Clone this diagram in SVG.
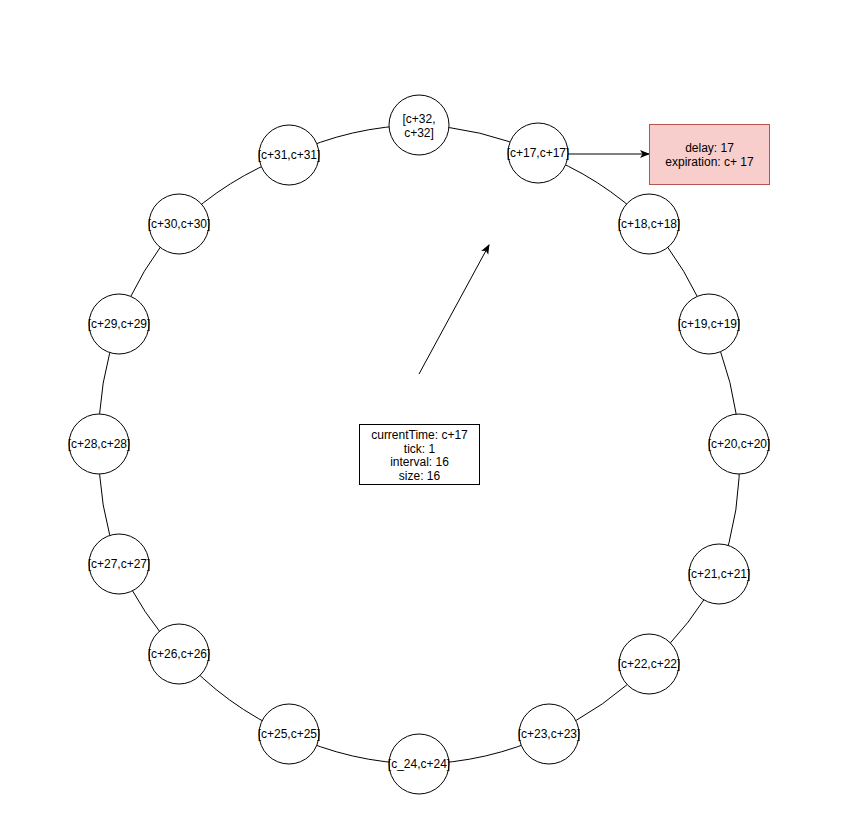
<svg xmlns="http://www.w3.org/2000/svg" width="868" height="816" viewBox="0 0 868 816">
  <style>
    text { font-family: "Liberation Sans", Arial, Helvetica, sans-serif; font-size: 12px; fill: #000; text-anchor: middle; }
    .slot { fill: #fff; stroke: #000; stroke-width: 1; }
    .ring { fill: none; stroke: #000; stroke-width: 1; }
    .arrow { fill: none; stroke: #000; stroke-width: 1; marker-end: url(#head); }
  </style>
  <defs>
    <marker id="head" viewBox="0 0 10 10" refX="9" refY="5" markerWidth="10" markerHeight="10" markerUnits="userSpaceOnUse" orient="auto">
      <path d="M0,1 L10,5 L0,9 L2.5,5 Z" fill="#000"/>
    </marker>
  </defs>
  <rect width="868" height="816" fill="#fff"/>

  <!-- ring of buckets: arcs between neighbouring slots -->
  <g id="connectors">
    <path class="ring" d="M419,125 A320,320 0 0 1 538,153"/>
    <path class="ring" d="M538,153 A320,320 0 0 1 649,224"/>
    <path class="ring" d="M649,224 A320,320 0 0 1 709,324"/>
    <path class="ring" d="M709,324 A320,320 0 0 1 739,444"/>
    <path class="ring" d="M739,444 A320,320 0 0 1 719,574"/>
    <path class="ring" d="M719,574 A320,320 0 0 1 649,664"/>
    <path class="ring" d="M649,664 A320,320 0 0 1 549,734"/>
    <path class="ring" d="M549,734 A320,320 0 0 1 419,764"/>
    <path class="ring" d="M419,764 A320,320 0 0 1 289,734"/>
    <path class="ring" d="M289,734 A320,320 0 0 1 179,654"/>
    <path class="ring" d="M179,654 A320,320 0 0 1 119,564"/>
    <path class="ring" d="M119,564 A320,320 0 0 1 99,444"/>
    <path class="ring" d="M99,444 A320,320 0 0 1 119,324"/>
    <path class="ring" d="M119,324 A320,320 0 0 1 179,224"/>
    <path class="ring" d="M179,224 A320,320 0 0 1 289,155"/>
    <path class="ring" d="M289,155 A320,320 0 0 1 419,125"/>
    <!-- pointer from the tick state towards the current slot -->
    <path class="arrow" d="M419,374 L489,245"/>
    <!-- task stored in slot c+17 -->
    <path class="arrow" d="M568,154 L649,154"/>
  </g>

  <g id="slot-32">
    <circle class="slot" cx="419" cy="125" r="30"/>
    <text x="419" y="122.5">[c+32,</text>
    <text x="419" y="136.5">c+32]</text>
  </g>
  <g id="slot-17">
    <circle class="slot" cx="538" cy="153" r="30"/>
    <text x="538" y="157">[c+17,c+17]</text>
  </g>
  <g id="slot-18">
    <circle class="slot" cx="649" cy="224" r="30"/>
    <text x="649" y="228">[c+18,c+18]</text>
  </g>
  <g id="slot-19">
    <circle class="slot" cx="709" cy="324" r="30"/>
    <text x="709" y="328">[c+19,c+19]</text>
  </g>
  <g id="slot-20">
    <circle class="slot" cx="739" cy="444" r="30"/>
    <text x="739" y="448">[c+20,c+20]</text>
  </g>
  <g id="slot-21">
    <circle class="slot" cx="719" cy="574" r="30"/>
    <text x="719" y="578">[c+21,c+21]</text>
  </g>
  <g id="slot-22">
    <circle class="slot" cx="649" cy="664" r="30"/>
    <text x="649" y="668">[c+22,c+22]</text>
  </g>
  <g id="slot-23">
    <circle class="slot" cx="549" cy="734" r="30"/>
    <text x="549" y="738">[c+23,c+23]</text>
  </g>
  <g id="slot-24">
    <circle class="slot" cx="419" cy="764" r="30"/>
    <text x="419" y="768">[c_24,c+24]</text>
  </g>
  <g id="slot-25">
    <circle class="slot" cx="289" cy="734" r="30"/>
    <text x="289" y="738">[c+25,c+25]</text>
  </g>
  <g id="slot-26">
    <circle class="slot" cx="179" cy="654" r="30"/>
    <text x="179" y="658">[c+26,c+26]</text>
  </g>
  <g id="slot-27">
    <circle class="slot" cx="119" cy="564" r="30"/>
    <text x="119" y="568">[c+27,c+27]</text>
  </g>
  <g id="slot-28">
    <circle class="slot" cx="99" cy="444" r="30"/>
    <text x="99" y="448">[c+28,c+28]</text>
  </g>
  <g id="slot-29">
    <circle class="slot" cx="119" cy="324" r="30"/>
    <text x="119" y="328">[c+29,c+29]</text>
  </g>
  <g id="slot-30">
    <circle class="slot" cx="179" cy="224" r="30"/>
    <text x="179" y="228">[c+30,c+30]</text>
  </g>
  <g id="slot-31">
    <circle class="slot" cx="289" cy="155" r="30"/>
    <text x="289" y="159">[c+31,c+31]</text>
  </g>

  <g id="task">
    <rect x="649.5" y="124.5" width="120" height="60" fill="#f8cecc" stroke="#b85450"/>
    <text x="709.5" y="152">delay: 17</text>
    <text x="709.5" y="166">expiration: c+ 17</text>
  </g>

  <g id="wheel-state">
    <rect x="359.5" y="424.5" width="120" height="60" fill="#fff" stroke="#000"/>
    <text x="419.5" y="438.5">currentTime: c+17</text>
    <text x="419.5" y="452.5">tick: 1</text>
    <text x="419.5" y="466">interval: 16</text>
    <text x="419.5" y="480">size: 16</text>
  </g>
</svg>
